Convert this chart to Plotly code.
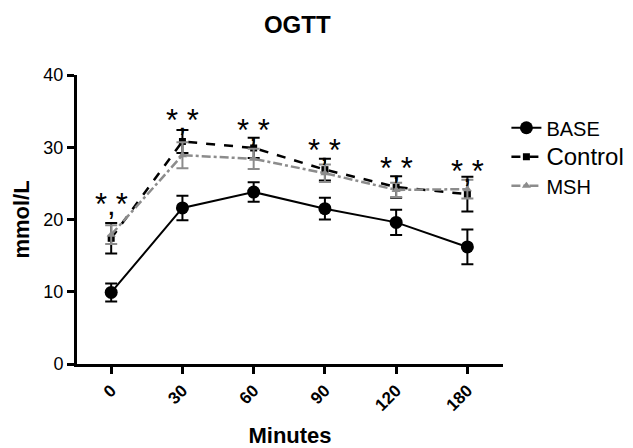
import plotly.graph_objects as go

minutes = ["0", "30", "60", "90", "120", "180"]
base = [9.9, 21.6, 23.8, 21.5, 19.6, 16.2]
base_err = [1.25, 1.7, 1.35, 1.5, 1.75, 2.4]
control = [17.4, 30.8, 29.9, 26.9, 24.5, 23.5]
control_err = [2.1, 1.6, 1.4, 1.5, 1.5, 2.4]
msh = [17.9, 28.9, 28.4, 26.4, 24.1, 24.2]
msh_err = [1.3, 1.8, 1.4, 1.2, 1.0, 1.3]
sig_labels = ["*,*"] * 6
sig_y = [22.8, 34.4, 33.0, 30.2, 27.8, 27.3]

BLACK = "#000000"
GRAY = "#8c8c8c"
FONT = "Liberation Sans, Arial, sans-serif"

fig = go.Figure()
fig.add_trace(go.Scatter(
    x=minutes, y=base, name="BASE", mode="lines+markers",
    line=dict(color=BLACK, width=2),
    marker=dict(symbol="circle", size=13, color=BLACK),
    error_y=dict(type="data", array=base_err, color=BLACK, thickness=2, width=6),
))
fig.add_trace(go.Scatter(
    x=minutes, y=control, name="<span style='font-size:24px'>Control</span>", mode="lines+markers",
    line=dict(color=BLACK, width=2.5, dash="dash"),
    marker=dict(symbol="square", size=7, color=BLACK),
    error_y=dict(type="data", array=control_err, color=BLACK, thickness=2, width=6),
))
fig.add_trace(go.Scatter(
    x=minutes, y=msh, name="MSH", mode="lines+markers",
    line=dict(color=GRAY, width=2.5, dash="dashdot"),
    marker=dict(symbol="triangle-up", size=8, color=GRAY),
    error_y=dict(type="data", array=msh_err, color=GRAY, thickness=2, width=6),
))

for i, (yv, t) in enumerate(zip(sig_y, sig_labels)):
    fig.add_annotation(x=i, y=yv, text=t, showarrow=False, yshift=-5,
                       font=dict(size=31, color=BLACK, family="Liberation Sans"))

fig.update_layout(
    width=633, height=448,
    margin=dict(l=69, r=115, t=67, b=78),
    paper_bgcolor="white", plot_bgcolor="white",
    font=dict(family=FONT, color=BLACK),
    title=dict(text="<b>OGTT</b>", x=0.457, xanchor="center", y=0.962, yanchor="middle",
               font=dict(size=24)),
    showlegend=True,
    legend=dict(x=1.008, xanchor="left", y=0.885, yanchor="top",
                font=dict(size=20), bgcolor="rgba(0,0,0,0)", tracegroupgap=0),
)
fig.update_xaxes(
    type="category", range=[-0.48, 5.5], showgrid=False, zeroline=False,
    showline=True, linecolor=BLACK, linewidth=3,
    ticks="outside", ticklen=7, tickwidth=2.5, tickcolor=BLACK,
    tickangle=-45, tickfont=dict(size=17),
    tickprefix="<b>", ticksuffix="</b>",
    title=dict(text="<b>Minutes</b>", font=dict(size=22), standoff=14),
)
fig.update_yaxes(
    range=[0, 40], tickvals=[0, 10, 20, 30, 40], showgrid=False, zeroline=False,
    showline=True, linecolor=BLACK, linewidth=3,
    ticks="outside", ticklen=7, tickwidth=2.5, tickcolor=BLACK,
    tickfont=dict(size=18), tickprefix="<b>", ticksuffix="</b>",
    title=dict(text="<b>mmol/L</b>", font=dict(size=22), standoff=8),
)

fig.write_html("out.html")
